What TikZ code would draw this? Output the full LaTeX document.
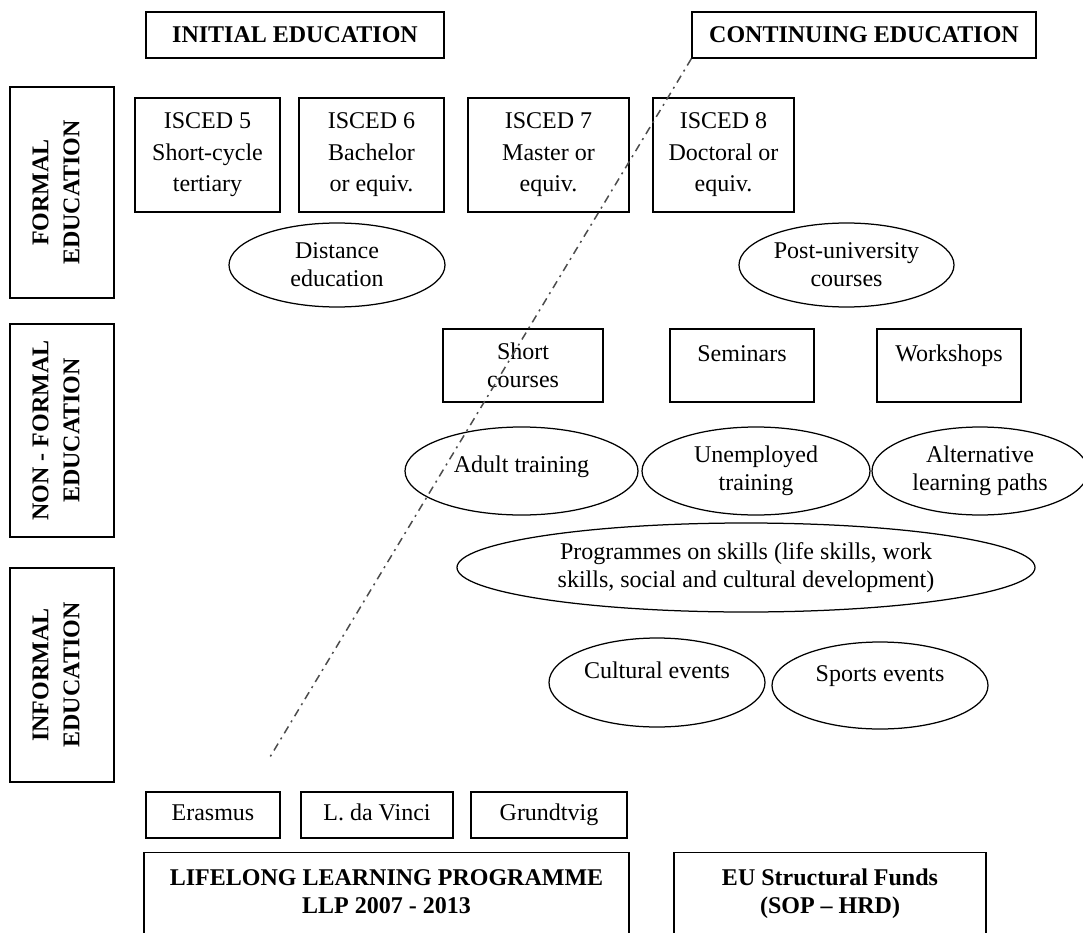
\documentclass[tikz,border=0pt]{standalone}
\usepackage{fontspec}
\setmainfont{Liberation Serif}
\usepackage{tikz}
\usetikzlibrary{shapes}

\begin{document}
\begin{tikzpicture}[x=1pt,y=-1pt,line width=1.25pt]
	\fontsize{24}{28}\selectfont
	\def \titlerow{35}
	\def \iscedrow{155}
	\def \extrarow{265}
	\def \courserow{365.5}
	\def \trainrow{471}
	\def \skillrow{567.5}
	\def \progrow{815}
	\def \fundtop{852}

	\tikzstyle{head}=[rectangle,draw,font=\bfseries,minimum height=46pt,inner sep=0pt]
	\tikzstyle{side}=[rectangle,draw,font=\bfseries,rotate=90,align=center,minimum width=212pt,minimum height=104pt,inner sep=0pt,text depth=12pt]
	\tikzstyle{isced}=[rectangle,draw,align=center,minimum height=114pt,inner sep=0pt]
	\tikzstyle{course}=[rectangle,draw,align=center,minimum height=73pt,inner sep=0pt]
	\tikzstyle{oneline}=[text height=16pt,text depth=24pt]
	\tikzstyle{activity}=[ellipse,draw,align=center,minimum height=88pt,inner sep=0pt]
	\tikzstyle{prog}=[rectangle,draw,minimum height=46pt,inner sep=0pt,text height=16pt,text depth=5pt]
	\tikzstyle{fund}=[rectangle,draw,font=\bfseries,align=center,anchor=north,inner sep=0pt,text height=61pt,text depth=39pt]
	\tikzstyle{divider}=[draw=black!70,line width=1.5pt,dash pattern=on 8pt off 5pt on 2pt off 5pt]

	\useasboundingbox (0,0) rectangle (1083,933);

	% headings
	\node[head,minimum width=298pt]	(init)	at (295,\titlerow)	{INITIAL EDUCATION};
	\node[head,minimum width=344pt]	(cont)	at (864,\titlerow)	{CONTINUING EDUCATION};

	% kinds of education
	\node[side,minimum width=211pt]	(formal)	at (62,192.5)	{FORMAL\\[3pt] EDUCATION};
	\node[side,minimum width=213pt]	(nonformal)	at (62,430.5)	{NON - FORMAL\\[3pt] EDUCATION};
	\node[side,minimum width=214pt]	(informal)	at (62,675)	{INFORMAL\\[3pt] EDUCATION};

	% formal
	\node[isced,minimum width=145pt]	(isced5)	at (207.5,\iscedrow)	{ISCED 5\\[3.5pt] Short-cycle\\[3.5pt] tertiary};
	\node[isced,minimum width=145pt]	(isced6)	at (371.5,\iscedrow)	{ISCED 6\\[3.5pt] Bachelor\\[3.5pt] or equiv.};
	\node[isced,minimum width=161pt]	(isced7)	at (548.5,\iscedrow)	{ISCED 7\\[3.5pt] Master or\\[3.5pt] equiv.};
	\node[isced,minimum width=141pt]	(isced8)	at (723.5,\iscedrow)	{ISCED 8\\[3.5pt] Doctoral or\\[3.5pt] equiv.};
	\node[activity,minimum width=216pt,minimum height=84pt]	(dist)	at (337,\extrarow)	{Distance\\ education};
	\node[activity,minimum width=215pt,minimum height=84pt]	(postuni)	at (846.5,\extrarow)	{Post-university\\ courses};

	% non-formal
	\node[course,minimum width=160pt]	(short)	at (523,\courserow)	{Short\\ courses};
	\node[course,oneline,minimum width=144pt]	(seminars)	at (742,\courserow)	{Seminars};
	\node[course,oneline,minimum width=144pt]	(workshops)	at (949,\courserow)	{Workshops};
	\node[activity,minimum width=233pt,text height=16pt,text depth=14pt]	(adult)	at (521.5,\trainrow)	{Adult training};
	\node[activity,minimum width=228pt]	(unemp)	at (756,\trainrow)	{Unemployed\\ training};
	\node[activity,minimum width=216pt]	(altpaths)	at (980,\trainrow)	{Alternative\\ learning paths};
	\node[activity,minimum width=578pt,minimum height=89pt]	(skills)	at (746,\skillrow)	{Programmes on skills (life skills, work\\ skills, social and cultural development)};

	% informal
	\node[activity,oneline,minimum width=216pt,minimum height=89pt]	(cultural)	at (657,682.5)	{Cultural events};
	\node[activity,oneline,minimum width=216pt,minimum height=87pt]	(sports)	at (880,685.5)	{Sports events};

	% programmes and funds
	\node[prog,minimum width=134pt]	(erasmus)	at (213,\progrow)	{Erasmus};
	\node[prog,minimum width=152pt]	(vinci)	at (377,\progrow)	{L. da Vinci};
	\node[prog,minimum width=156pt]	(grundtvig)	at (549,\progrow)	{Grundtvig};
	\node[fund,minimum width=485pt]	(llp)	at (386.5,\fundtop)	{LIFELONG LEARNING PROGRAMME\\ LLP 2007 - 2013};
	\node[fund,minimum width=312pt]	(funds)	at (830,\fundtop)	{EU Structural Funds\\ (SOP -- HRD)};

	% initial / continuing border
	\coordinate (borderend) at (270,757);
	\draw[divider] (cont.south west) -- (borderend);
\end{tikzpicture}
\end{document}
